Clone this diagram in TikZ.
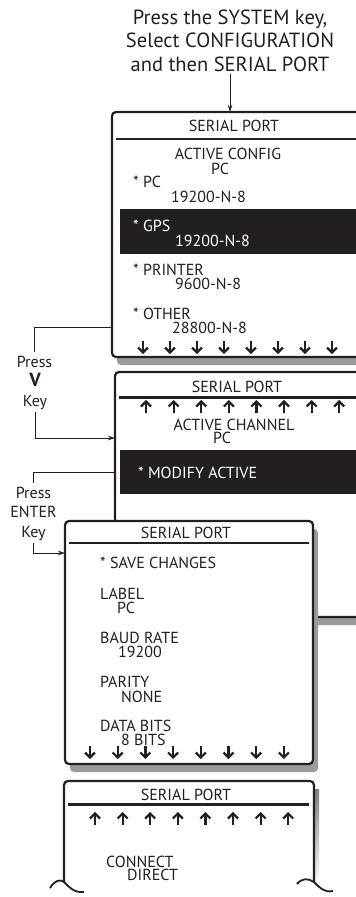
\documentclass[tikz,border=0pt]{standalone}
\usepackage{fontspec}
\setmainfont{PT Sans}
\usetikzlibrary{arrows.meta,calc,shadows}
\definecolor{ink}{HTML}{231F20}
\definecolor{shade}{HTML}{9A9A9A}
\begin{document}
\begin{tikzpicture}[x=1pt,y=-1pt,
  screen/.style={draw=ink, line width=2.2pt, rounded corners=4pt, fill=white,
    inner sep=0pt, outer sep=0pt,
    general shadow={shadow xshift=5pt, shadow yshift=-8pt, fill=shade}},
  tx/.style={text=ink, font=\fontsize{16}{16}\selectfont, inner sep=0pt, anchor=base west},
  txc/.style={tx, anchor=base},
  wtx/.style={tx, text=white},
  hd/.style={text=ink, font=\fontsize{20.5}{20.5}\selectfont, inner sep=0pt, anchor=base},
  sepline/.style={draw=ink, line width=2.2pt},
  band/.style={fill=ink},
  wire/.style={draw=ink, line width=0.9pt},
  conn/.style={wire, -{Stealth[length=7pt,width=4.5pt]}},
  darr/.pic={\draw[ink, line width=2.2pt] (0,-13) -- (0,-1.5);
             \draw[ink, line width=2.2pt] (-5,-6.5) -- (0,-1.5) -- (5,-6.5);},
  uarr/.pic={\draw[ink, line width=2.2pt] (0,13) -- (0,1.5);
             \draw[ink, line width=2.2pt] (-5,6.5) -- (0,1.5) -- (5,6.5);}
]
\useasboundingbox (0,0) rectangle (356,897);
\clip (0,0) rectangle (356,897);

% header
\node[hd] (h1) at (230,24) {Press the SYSTEM key,};
\node[hd] (h2) at (230,47.5) {Select CONFIGURATION};
\node[hd] (h3) at (230,71) {and then SERIAL PORT};

% ---------- box 1
\node[screen, anchor=north west, minimum width=250pt, minimum height=245pt] (b1) at (112,112) {};
\draw[conn, shorten <=3pt] (h3.south) -- (h3.south |- b1.north);
\draw[sepline] (116,139) -- (360,139);
\node[txc] (b1t) at (234,131) {SERIAL PORT};
\node[txc] (b1a) at (228,159) {ACTIVE CONFIG};
\node[txc] (b1b) at (220,174) {PC};
\node[tx] (b1c) at (133,187) {* PC};
\node[tx] (b1d) at (171,202) {19200-N-8};
\fill[band] (120,209) rectangle (360,254);
\node[wtx] (b1e) at (133,231) {* GPS};
\node[wtx] (b1f) at (175,246) {19200-N-8};
\node[tx] (b1g) at (133,275) {* PRINTER};
\node[tx] (b1h) at (175,289) {9600-N-8};
\node[tx] (b1i) at (133,319) {* OTHER};
\node[tx] (b1j) at (172,333) {28800-N-8};
\foreach \i in {0,...,7} \pic at ({143+27*\i},354) {darr};

% ---------- box 2
\node[screen, anchor=north west, minimum width=250pt, minimum height=245pt] (b2) at (115,372) {};
\draw[sepline] (119,397.5) -- (360,397.5);
\node[txc] (b2t) at (237,392) {SERIAL PORT};
\foreach \i in {0,...,7} \pic at ({146+27.6*\i},400) {uarr};
\node[txc] (b2a) at (234,430) {ACTIVE CHANNEL};
\node[txc] (b2b) at (222,443) {PC};
\fill[band] (120,450) rectangle (360,494);
\node[wtx] (b2c) at (138,478) {* MODIFY ACTIVE};

% ---------- box 3
\node[screen, anchor=north west, minimum width=248pt, minimum height=243pt] (b3) at (65,521) {};
\draw[sepline] (69,543) -- (309,543);
\node[txc] (b3t) at (186,538) {SERIAL PORT};
\node[tx] (b3a) at (100,568) {* SAVE CHANGES};
\node[tx] (b3b) at (100,599) {LABEL};
\node[tx] (b3c) at (117,613) {PC};
\node[tx] (b3d) at (100,643) {BAUD RATE};
\node[tx] (b3e) at (118,657) {19200};
\node[tx] (b3f) at (100,687) {PARITY};
\node[tx] (b3g) at (121,702) {NONE};
\node[tx] (b3h) at (100,731) {DATA BITS};
\node[tx] (b3i) at (121,745) {8 BITS};
\foreach \i in {0,...,7} \pic at ({90+27.7*\i},759) {darr};

% ---------- box 4 (open at the bottom)
\fill[shade] (300,789) rectangle (319,885);
\filldraw[fill=white, draw=ink, line width=2.2pt, rounded corners=4pt]
  (64,882) -- (64,781) -- (314,781) -- (314,882);
\draw[ink, line width=1.8pt] (50,888) .. controls (55,880) and (60,879) .. (64,882)
  .. controls (69,887) and (74,893) .. (84,892);
\draw[ink, line width=1.8pt] (297,884) .. controls (302,878) and (308,878) .. (314,882)
  .. controls (319,887) and (324,893) .. (333,891);
\draw[sepline] (68,804.5) -- (309,804.5);
\node[txc] (b4t) at (186,800) {SERIAL PORT};
\foreach \i in {0,...,7} \pic at ({95+27.6*\i},812) {uarr};
\node[tx] (b4a) at (106,867) {CONNECT};
\node[tx] (b4b) at (127,880) {DIRECT};

% ---------- key labels and connectors
\coordinate (t1) at (0,327);
\coordinate (t2) at (0,438);
\coordinate (t3) at (0,472);
\coordinate (t4) at (0,553);
\node[txc, inner sep=3pt] (k1a) at (34.5,367) {Press};
\node[txc, inner sep=1pt, font=\fontsize{19}{19}\selectfont\bfseries] (k1b) at (35,386.5) {V};
\node[txc, inner sep=3pt] (k1c) at (35,406) {Key};
\node[txc, inner sep=3pt] (k2a) at (33.5,498) {Press};
\node[txc, inner sep=1pt] (k2b) at (33.5,517) {ENTER};
\node[txc, inner sep=3pt] (k2c) at (33.5,537) {Key};
\draw[wire] (b1.west |- t1) -| (k1a.north);
\draw[conn] (k1c.south) |- (b2.west |- t2);
\draw[wire] (b2.west |- t3) -| (k2a.north);
\draw[conn] (k2c.south) |- (b3.west |- t4);
\end{tikzpicture}
\end{document}
